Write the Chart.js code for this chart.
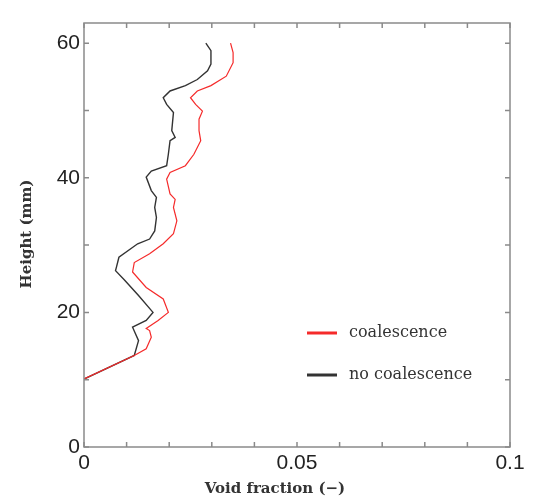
<!DOCTYPE html>
<html>
<head>
<meta charset="utf-8">
<script src="https://cdn.jsdelivr.net/npm/chart.js@4/dist/chart.umd.min.js"></script>
<style>
  html, body { margin: 0; padding: 0; background: #fff; }
  #wrap { width: 534px; height: 500px; }
</style>
</head>
<body>
<div id="wrap"><canvas id="voidChart" width="534" height="500"></canvas></div>
<script>
// tick labels
const xTickLabels = [0, 0.05, 0.1];
const yTickLabels = [0, 20, 40, 60];

// no coalescence (black)
const heightNoCoal = [10.1, 13.6, 15.8, 17.8, 18.8, 20.0, 22.5, 24.8, 26.2, 26.7, 28.2, 30.2, 30.9, 32.1, 34.1, 35.6, 37.1, 38.1, 40.1, 41.0, 41.8, 43.5, 45.5, 46.0, 47.0, 49.7, 50.9, 51.9, 52.9, 53.7, 54.6, 55.9, 56.9, 58.9, 60.0];
const voidNoCoal   = [0.0, 0.0118, 0.0128, 0.0114, 0.0146, 0.0162, 0.0128, 0.0095, 0.0074, 0.0076, 0.0082, 0.0126, 0.0154, 0.0166, 0.017, 0.0166, 0.017, 0.0158, 0.0146, 0.0158, 0.0194, 0.0198, 0.0202, 0.0214, 0.0206, 0.021, 0.0194, 0.0186, 0.0202, 0.0238, 0.0266, 0.029, 0.0298, 0.0298, 0.0286];

// coalescence (red)
const heightCoal = [10.1, 13.6, 14.6, 16.3, 17.3, 17.6, 18.8, 20.0, 22.0, 23.7, 26.0, 27.4, 28.7, 30.2, 31.7, 33.6, 35.6, 36.8, 37.6, 39.8, 40.8, 41.8, 43.5, 45.5, 47.0, 48.7, 49.9, 50.9, 51.9, 52.9, 53.7, 55.1, 57.1, 58.6, 60.0];
const voidCoal   = [0.0, 0.0118, 0.0146, 0.0158, 0.0154, 0.0146, 0.0174, 0.0198, 0.0186, 0.0146, 0.0114, 0.0118, 0.0154, 0.0186, 0.021, 0.0218, 0.021, 0.0214, 0.0202, 0.0194, 0.0202, 0.0238, 0.0258, 0.0274, 0.027, 0.027, 0.0278, 0.0262, 0.025, 0.0266, 0.0298, 0.0334, 0.035, 0.035, 0.0344];

const seriesNames = ['coalescence', 'no coalescence'];
const seriesColors = ['#f52a2a', '#333333'];

function toPoints(xs, ys) {
    return xs.map((x, i) => ({ x: x, y: ys[i] }));
}

// inward ticks on all four sides, frame, legend and axis titles
const framePlugin = {
    id: 'frame',
    afterDraw(chart) {
        const ctx = chart.ctx;
        const a = chart.chartArea;
        const xs = chart.scales.x;
        const ys = chart.scales.y;
        ctx.save();
        ctx.strokeStyle = '#8a8a8a';
        ctx.lineWidth = 1.5;
        ctx.strokeRect(a.left, a.top, a.right - a.left, a.bottom - a.top);
        ctx.beginPath();
        for (let v = 0; v <= 0.1001; v += 0.01) {
            const px = xs.getPixelForValue(v);
            ctx.moveTo(px, a.bottom); ctx.lineTo(px, a.bottom - 5);
            ctx.moveTo(px, a.top); ctx.lineTo(px, a.top + 5);
        }
        for (let v = 0; v <= 60; v += 10) {
            const py = ys.getPixelForValue(v);
            ctx.moveTo(a.left, py); ctx.lineTo(a.left + 5, py);
            ctx.moveTo(a.right, py); ctx.lineTo(a.right - 5, py);
        }
        ctx.stroke();

        // legend
        ctx.font = '16px "DejaVu Serif", serif';
        ctx.textBaseline = 'middle';
        ctx.textAlign = 'left';
        const legendY = [333, 375];
        seriesNames.forEach((name, i) => {
            ctx.strokeStyle = seriesColors[i];
            ctx.lineWidth = 3;
            ctx.beginPath();
            ctx.moveTo(307, legendY[i]); ctx.lineTo(337, legendY[i]);
            ctx.stroke();
            ctx.fillStyle = '#333';
            ctx.fillText(name, 349, legendY[i]);
        });

        // axis titles
        ctx.fillStyle = '#333';
        ctx.font = 'bold 15px "DejaVu Serif", serif';
        ctx.textAlign = 'center';
        ctx.fillText('Void fraction (\u2212)', 275, 489);
        ctx.translate(27, 234);
        ctx.rotate(-Math.PI / 2);
        ctx.fillText('Height (mm)', 0, 0);
        ctx.restore();
    }
};

const ctx = document.getElementById('voidChart').getContext('2d');
new Chart(ctx, {
    type: 'line',
    data: {
        datasets: [
            {
                label: seriesNames[0],
                data: toPoints(voidCoal, heightCoal),
                borderColor: seriesColors[0],
                borderWidth: 1.2,
                pointRadius: 0,
                tension: 0
            },
            {
                label: seriesNames[1],
                data: toPoints(voidNoCoal, heightNoCoal),
                borderColor: seriesColors[1],
                borderWidth: 1.4,
                pointRadius: 0,
                tension: 0
            }
        ]
    },
    options: {
        responsive: false,
        animation: false,
        layout: { padding: { top: 23, right: 24, left: 0, bottom: 0 } },
        plugins: {
            legend: { display: false },
            tooltip: { enabled: false }
        },
        scales: {
            x: {
                type: 'linear',
                min: 0,
                max: 0.1,
                grid: { display: false, drawTicks: false },
                border: { display: false },
                afterBuildTicks: s => { s.ticks = xTickLabels.map(v => ({ value: v })); },
                afterFit: s => { s.height = 53; },
                ticks: {
                    color: '#222',
                    padding: 4,
                    maxRotation: 0,
                    autoSkip: false,
                    font: { family: '"Liberation Sans", Arial, sans-serif', size: 21 },
                    callback: v => String(v)
                }
            },
            y: {
                type: 'linear',
                min: 0,
                max: 63,
                grid: { display: false, drawTicks: false },
                border: { display: false },
                afterBuildTicks: s => { s.ticks = yTickLabels.map(v => ({ value: v })); },
                afterFit: s => { s.width = 84; },
                ticks: {
                    color: '#222',
                    padding: 4,
                    autoSkip: false,
                    font: { family: '"Liberation Sans", Arial, sans-serif', size: 21 },
                    callback: v => String(v)
                }
            }
        }
    },
    plugins: [framePlugin]
});
</script>
</body>
</html>
